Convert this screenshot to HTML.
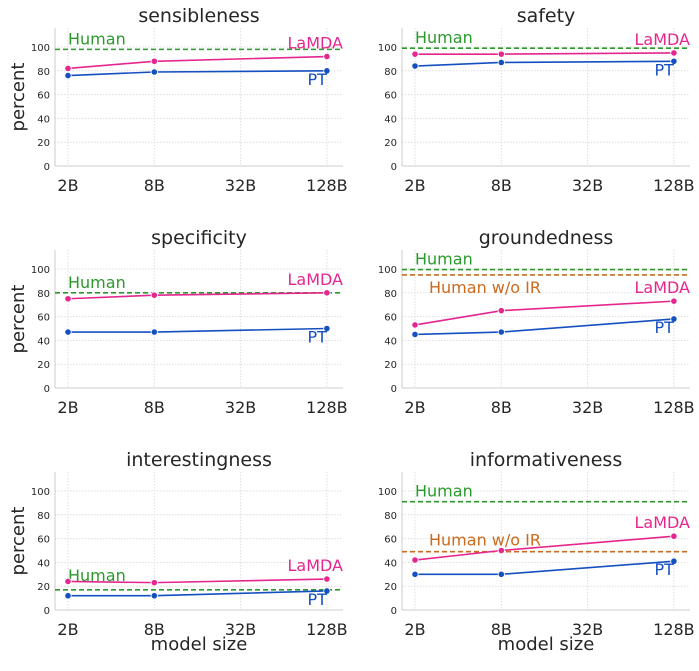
<!DOCTYPE html>
<html><head><meta charset="utf-8"><style>
body{margin:0;background:#fff}
svg text{font-family:"DejaVu Sans","Liberation Sans",sans-serif}
</style></head><body>
<svg id="s" width="699" height="666" xmlns="http://www.w3.org/2000/svg"></svg>
<script>
const S=document.getElementById('s');let h='';
const G='#2a9a2a',O='#cc6a1e',L='#e5268e',P='#1550c0',T='#262626';
const panels=[
 {t:'sensibleness',c:0,r:0,l:[82,88,92],p:[76,79,80],hu:98},
 {t:'safety',c:1,r:0,l:[94,94,95],p:[84,87,88],hu:99},
 {t:'specificity',c:0,r:1,l:[75,78,80],p:[47,47,50],hu:80},
 {t:'groundedness',c:1,r:1,l:[53,65,73],p:[45,47,58],hu:99.5,ir:95,iry:18},
 {t:'interestingness',c:0,r:2,l:[24,23,26],p:[12,12,16],hu:17,hoff:9},
 {t:'informativeness',c:1,r:2,l:[42,50,62],p:[30,30,41],hu:91,ir:49,iry:-6},
];
panels.forEach(d=>{
 const x0=d.c?402:55,x1=d.c?690:343,y0=166+222*d.r,k=1.19,top=y0-138;
 const Y=v=>y0-v*k, X=i=>x0+13+i*86.3;
 for(let v=0;v<=100;v+=20){h+=`<line x1="${x0}" x2="${x1}" y1="${Y(v)}" y2="${Y(v)}" stroke="#ddd" stroke-dasharray="1.5,1.5"/>`;
  h+=`<text x="${x0-5}" y="${Y(v)+4}" font-size="10" fill="${T}" text-anchor="end">${v}</text>`;}
 ['2B','8B','32B','128B'].forEach((s,i)=>{h+=`<line x1="${X(i)}" x2="${X(i)}" y1="${top}" y2="${y0}" stroke="#ddd" stroke-dasharray="1.5,1.5"/>`;
  h+=`<text x="${X(i)}" y="${y0+25}" font-size="16" fill="${T}" text-anchor="middle">${s}</text>`;});
 h+=`<line x1="${x0}" x2="${x0}" y1="${top}" y2="${y0}" stroke="#ccc"/><line x1="${x0}" x2="${x1}" y1="${y0}" y2="${y0}" stroke="#ccc"/>`;
 h+=`<text x="${(x0+x1)/2}" y="${y0-144}" font-size="19" fill="${T}" text-anchor="middle">${d.t}</text>`;
 if(!d.c)h+=`<text transform="translate(24,${y0-69}) rotate(-90)" font-size="18" fill="${T}" text-anchor="middle">percent</text>`;
 if(d.r==2)h+=`<text x="${(x0+x1)/2}" y="650" font-size="18" fill="${T}" text-anchor="middle">model size</text>`;
 h+=`<line x1="${x0}" x2="${x1}" y1="${Y(d.hu)}" y2="${Y(d.hu)}" stroke="${G}" stroke-width="1.6" stroke-dasharray="5,3"/>`;
 h+=`<text x="${x0+13}" y="${Y(d.hu)-(d.hoff||5)}" font-size="16" fill="${G}">Human</text>`;
 if(d.ir){h+=`<line x1="${x0}" x2="${x1}" y1="${Y(d.ir)}" y2="${Y(d.ir)}" stroke="${O}" stroke-width="1.6" stroke-dasharray="5,3"/>`;
  h+=`<text x="${x0+27}" y="${Y(d.ir)+d.iry}" font-size="16" fill="${O}">Human w/o IR</text>`;}
 const xi=[0,1,3];
 [[d.l,L],[d.p,P]].forEach(([a,c])=>{h+=`<polyline fill="none" stroke="${c}" stroke-width="1.6" points="${a.map((v,j)=>X(xi[j])+','+Y(v)).join(' ')}"/>`;
  a.forEach((v,j)=>h+=`<circle cx="${X(xi[j])}" cy="${Y(v)}" r="3.2" fill="${c}" stroke="#fff" stroke-width="0.8"/>`);});
 h+=`<text x="${x1}" y="${Y(d.l[2])-8}" font-size="16" fill="${L}" text-anchor="end">LaMDA</text>`;
 h+=`<text x="${X(3)}" y="${Y(d.p[2])+14}" font-size="16" fill="${P}" text-anchor="end">PT</text>`;
});
S.innerHTML=h;
</script>
</body></html>
